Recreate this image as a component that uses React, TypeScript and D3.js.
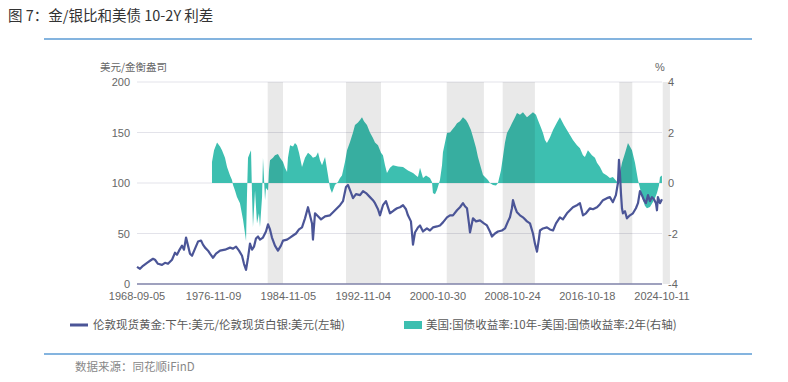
import React from "react";
import * as d3 from "d3";

// ---------- data ----------
const tickDates = ["1968-09-05", "1976-11-09", "1984-11-05", "1992-11-04", "2000-10-30", "2008-10-24", "2016-10-18", "2024-10-11"];
const leftTicks = [0, 50, 100, 150, 200];
const rightTicks = [-4, -2, 0, 2, 4];

// gold/silver ratio (decimal year, value)
const gsYears = [1968.68,1969.00,1969.32,1969.75,1970.07,1970.39,1970.60,1970.92,1971.35,1971.67,1971.99,1972.42,1972.74,1972.95,1973.17,1973.49,1973.70,1973.92,1974.13,1974.34,1974.56,1974.88,1975.20,1975.52,1975.73,1975.95,1976.27,1976.48,1976.80,1977.12,1977.55,1978.08,1978.62,1978.94,1979.26,1979.58,1979.90,1980.11,1980.33,1980.54,1980.75,1980.97,1981.18,1981.39,1981.61,1981.82,1982.14,1982.46,1982.68,1982.89,1983.10,1983.42,1983.74,1984.06,1984.28,1984.71,1985.03,1985.35,1985.67,1985.99,1986.31,1986.63,1986.95,1987.16,1987.38,1987.48,1987.70,1988.02,1988.34,1988.77,1989.30,1989.73,1990.05,1990.37,1990.69,1991.01,1991.22,1991.44,1991.76,1992.08,1992.51,1992.83,1993.15,1993.57,1993.89,1994.11,1994.43,1994.64,1994.96,1995.28,1995.71,1996.14,1996.46,1996.78,1997.10,1997.42,1997.63,1997.95,1998.17,1998.38,1998.70,1998.92,1999.24,1999.66,1999.98,2000.30,2000.73,2001.05,2001.37,2001.80,2002.12,2002.44,2002.87,2003.19,2003.51,2003.72,2003.94,2004.15,2004.26,2004.58,2004.90,2005.33,2005.75,2006.07,2006.39,2006.61,2006.93,2007.25,2007.68,2008.00,2008.32,2008.53,2008.74,2008.85,2009.07,2009.28,2009.60,2009.92,2010.35,2010.67,2010.99,2011.20,2011.42,2011.63,2011.74,2012.06,2012.48,2012.80,2013.13,2013.45,2013.87,2014.19,2014.62,2014.94,2015.26,2015.69,2016.01,2016.33,2016.65,2017.08,2017.40,2017.83,2018.15,2018.47,2018.89,2019.21,2019.53,2019.85,2020.07,2020.18,2020.28,2020.39,2020.50,2020.60,2020.82,2021.03,2021.35,2021.67,2021.99,2022.21,2022.42,2022.63,2022.85,2023.06,2023.28,2023.49,2023.70,2023.92,2024.13,2024.24,2024.34,2024.56,2024.77];
const gsValues = [17,15,18,21,23,25,24,20,19,21,20,24,31,29,33,38,34,46,38,30,28,35,42,43,39,36,33,30,26,30,33,34,36,35,37,33,28,20,14,26,40,34,37,45,47,44,46,52,59,54,46,38,33,38,43,44,46,48,50,54,56,65,76,68,60,44,70,67,64,67,68,72,75,78,82,96,98,93,85,89,88,92,90,86,83,80,74,68,78,82,70,73,75,76,78,74,68,62,39,51,56,58,52,55,53,56,57,58,61,66,68,68,73,76,80,77,75,60,51,65,62,63,60,58,52,47,50,52,53,55,62,66,75,83,76,71,68,66,62,60,50,40,32,45,53,55,56,54,53,60,66,64,70,73,76,78,80,68,70,75,74,76,79,83,85,86,81,88,100,123,110,90,75,70,72,65,68,70,75,80,92,88,83,80,88,82,86,84,80,73,86,80,84];

// US 10Y-2Y spread (decimal year, %)
const spYears = [1976.69,1976.91,1977.23,1977.55,1977.76,1978.08,1978.30,1978.62,1978.83,1978.94,1979.15,1979.36,1979.68,1980.01,1980.22,1980.33,1980.43,1980.54,1980.75,1980.86,1980.97,1981.07,1981.29,1981.50,1981.71,1981.82,1982.04,1982.14,1982.36,1982.46,1982.68,1982.78,1982.89,1983.21,1983.42,1983.74,1983.96,1984.28,1984.49,1984.71,1984.81,1985.03,1985.35,1985.56,1985.77,1985.99,1986.31,1986.63,1986.95,1987.27,1987.48,1987.80,1988.02,1988.23,1988.45,1988.77,1989.09,1989.30,1989.51,1989.83,1990.15,1990.37,1990.58,1990.90,1991.12,1991.44,1991.76,1991.97,1992.29,1992.51,1992.72,1992.93,1993.25,1993.57,1993.89,1994.11,1994.43,1994.75,1994.96,1995.18,1995.39,1995.71,1996.03,1996.57,1997.10,1997.63,1998.17,1998.49,1998.70,1998.92,1999.24,1999.56,1999.98,2000.20,2000.30,2000.52,2000.73,2001.05,2001.27,2001.37,2001.59,2001.80,2002.12,2002.33,2002.66,2002.87,2003.19,2003.51,2003.83,2004.04,2004.36,2004.58,2004.90,2005.11,2005.43,2005.65,2005.97,2006.18,2006.39,2006.72,2007.04,2007.25,2007.57,2007.78,2008.00,2008.21,2008.53,2008.74,2009.07,2009.28,2009.60,2009.92,2010.13,2010.35,2010.67,2010.99,2011.31,2011.52,2011.84,2012.06,2012.27,2012.48,2012.80,2013.13,2013.55,2013.87,2014.30,2014.62,2014.94,2015.26,2015.69,2016.01,2016.33,2016.54,2016.86,2017.29,2017.61,2017.83,2018.15,2018.47,2018.89,2019.21,2019.53,2019.85,2020.07,2020.28,2020.50,2020.82,2021.14,2021.35,2021.57,2021.89,2022.21,2022.42,2022.63,2022.95,2023.17,2023.49,2023.81,2024.02,2024.24,2024.45,2024.56,2024.77];
const spValues = [0.83,1.3,1.6,1.45,1.3,1.0,0.63,0.3,0.12,-0.08,-0.3,-0.55,-0.8,-1.46,-2.0,-2.3,-0.5,1.0,1.2,1.3,-0.5,-1.74,-0.3,-1.6,-1.2,-1.74,-0.55,1.0,-0.67,-0.2,-0.3,0.5,0.9,1.0,1.1,1.15,1.0,0.83,0.6,0.44,1.0,1.5,1.45,1.58,1.5,1.2,0.63,1.0,1.2,1.1,1.0,1.05,1.22,0.9,0.7,1.03,0.3,-0.2,-0.4,-0.08,0.04,0.2,0.3,0.83,1.3,1.62,2.0,2.3,2.4,2.5,2.6,2.45,2.3,2.0,1.78,1.6,1.5,1.2,1.1,0.7,0.4,0.6,0.7,0.65,0.63,0.5,0.4,0.3,0.24,0.6,0.2,0.3,0.2,0.04,-0.4,-0.45,-0.28,0.12,0.7,1.22,1.6,1.98,2.0,2.1,2.25,2.37,2.45,2.6,2.5,2.37,2.1,1.82,1.4,1.03,0.6,0.32,0.2,0.12,0.0,-0.08,-0.1,0.0,0.5,1.03,1.6,1.98,2.2,2.37,2.6,2.77,2.7,2.8,2.7,2.6,2.7,2.8,2.7,2.5,2.2,1.98,1.7,1.58,1.8,2.1,2.4,2.6,2.3,2.1,1.9,1.7,1.5,1.38,1.1,1.03,1.3,1.1,1.0,0.8,0.63,0.4,0.3,0.2,0.24,0.1,0.0,0.4,0.8,1.18,1.58,1.45,1.3,0.8,0.12,-0.2,-0.55,-0.9,-1.0,-0.95,-0.75,-0.6,-0.4,-0.1,0.24,0.3];

// shaded periods (decimal years)
const bandStarts = [1982.64, 1991.01, 2001.77, 2007.75, 2020.21, 2024.85];
const bandEnds = [1984.28, 1994.75, 2005.75, 2011.20, 2021.60, 2025.63];

const title = "图 7：金/银比和美债 10-2Y 利差";
const leftUnit = "美元/金衡盎司";
const rightUnit = "%";
const legendLine = "伦敦现货黄金:下午:美元/伦敦现货白银:美元(左轴)";
const legendArea = "美国:国债收益率:10年-美国:国债收益率:2年(右轴)";
const source = "数据来源：同花顺iFinD";

// ---------- helpers ----------
function decToDate(d: number): Date {
  const y = Math.floor(d);
  const s = new Date(y, 0, 1).getTime();
  const e = new Date(y + 1, 0, 1).getTime();
  return new Date(s + (d - y) * (e - s));
}
function parseDate(s: string): Date {
  const [y, m, d] = s.split("-").map(Number);
  return new Date(y, m - 1, d);
}

const W = 788, H = 382;
const L = 137, R = 662, T = 82, B = 284;
const LINE = "#4b5597";
const TEAL = "#3dbfb0";
const NUM_FONT = "'Liberation Sans', Arial, sans-serif";
const CJK_FONT = "'Noto Sans CJK SC', 'Noto Sans', sans-serif";

export default function App() {
  const x = d3.scaleTime().domain([parseDate(tickDates[0]), parseDate(tickDates[tickDates.length - 1])]).range([L, R]);
  const yL = d3.scaleLinear().domain([0, 200]).range([B, T]);
  const yR = d3.scaleLinear().domain([-4, 4]).range([B, T]);

  const gs = gsYears.map((t, i) => ({ d: decToDate(t), v: gsValues[i] }));
  const sp = spYears.map((t, i) => ({ d: decToDate(t), v: spValues[i] }));

  const linePath = d3.line<{ d: Date; v: number }>().x(p => x(p.d)).y(p => yL(p.v))(gs) || "";
  const areaPath = d3.area<{ d: Date; v: number }>().x(p => x(p.d)).y0(yR(0)).y1(p => yR(p.v))(sp) || "";

  return (
    <svg width={W} height={H} style={{ position: "absolute", left: 0, top: 0, display: "block" }}>
      <rect width={W} height={H} fill="#fff" />
      <text x={8} y={21} fontFamily={CJK_FONT} fontSize={14.5} fill="#333">{title}</text>
      <line x1={44} x2={752} y1={39} y2={39} stroke="#5b9bd5" strokeWidth={1.5} />

      {/* axis units */}
      <text x={100} y={71} fontFamily={CJK_FONT} fontSize={10.5} fill="#666">{leftUnit}</text>
      <text x={655} y={71} fontFamily={NUM_FONT} fontSize={11} fill="#666">{rightUnit}</text>

      {/* gridlines */}
      {leftTicks.filter(t => t > 0).map(t => (
        <line key={"g" + t} x1={L} x2={R} y1={yL(t)} y2={yL(t)} stroke="#e3e3ea" strokeWidth={1} />
      ))}

      {/* area */}
      <path d={areaPath} fill={TEAL} />

      {/* shaded bands */}
      {bandStarts.map((s, i) => (
        <rect key={"b" + i} x={x(decToDate(s))} y={T} width={x(decToDate(bandEnds[i])) - x(decToDate(s))} height={B - T} fill="rgba(0,0,0,0.085)" />
      ))}

      {/* line */}
      <path d={linePath} fill="none" stroke={LINE} strokeWidth={2.2} strokeLinejoin="round" />

      {/* bottom axis */}
      <line x1={L} x2={R} y1={B} y2={B} stroke="#7f82a8" strokeWidth={1.5} />

      {/* left ticks */}
      {leftTicks.map(t => (
        <text key={"l" + t} x={130} y={yL(t) + 4} textAnchor="end" fontFamily={NUM_FONT} fontSize={11} fill="#666">{t}</text>
      ))}
      {/* right ticks */}
      {rightTicks.map(t => (
        <text key={"r" + t} x={668} y={yR(t) + 4} fontFamily={NUM_FONT} fontSize={11} fill="#666">{t}</text>
      ))}
      {/* x ticks */}
      {tickDates.map(t => (
        <text key={t} x={x(parseDate(t))} y={300} textAnchor="middle" fontFamily={NUM_FONT} fontSize={11} fill="#666">{t}</text>
      ))}

      {/* legend */}
      <line x1={70} x2={88} y1={325} y2={325} stroke={LINE} strokeWidth={3} />
      <text x={93} y={329} fontFamily={CJK_FONT} fontSize={11.5} fill="#595959">{legendLine}</text>
      <rect x={404} y={321} width={18} height={8} fill={TEAL} />
      <text x={426} y={329} fontFamily={CJK_FONT} fontSize={11.5} fill="#595959">{legendArea}</text>

      <line x1={44} x2={752} y1={354} y2={354} stroke="#5b9bd5" strokeWidth={1.5} />
      <text x={75} y={371} fontFamily={CJK_FONT} fontSize={11.5} fill="#888">{source}</text>
    </svg>
  );
}
